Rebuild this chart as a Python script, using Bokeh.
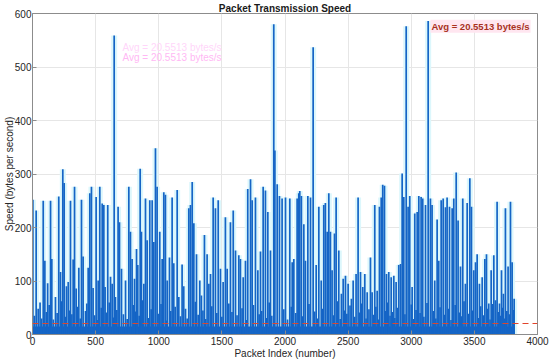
from bokeh.plotting import figure
from bokeh.models import Label, Range1d, Span, ColumnDataSource, FixedTicker
from bokeh.embed import file_html
from bokeh.resources import INLINE

# ---- data ----
spike_idx = [3, 29, 60, 85, 98, 120, 143, 153, 182, 208, 222, 240, 251, 269, 283, 301, 322, 333, 346,
             367, 388, 401, 441, 454, 467, 480, 504, 520, 533, 552, 565, 575, 596, 618, 631, 647, 657,
             678, 689, 705, 737, 763, 776, 789, 808, 824, 834, 853, 863, 882, 895, 908, 929, 948, 961,
             974, 987, 1008, 1027, 1040, 1053, 1067, 1085, 1106, 1119, 1146, 1159, 1185, 1198, 1238,
             1251, 1265, 1278, 1299, 1325, 1338, 1362, 1383, 1397, 1410, 1431, 1449, 1471, 1489, 1510,
             1528, 1542, 1568, 1590, 1608, 1634, 1647, 1669, 1687, 1705, 1727, 1740, 1766, 1785, 1806,
             1827, 1845, 1864, 1885, 1911, 1920, 1938, 1956, 1977, 2004, 2038, 2057, 2070, 2096, 2109,
             2117, 2130, 2149, 2162, 2181, 2202, 2223, 2247, 2268, 2287, 2307, 2320, 2334, 2347, 2360,
             2373, 2392, 2405, 2426, 2447, 2461, 2479, 2500, 2526, 2540, 2563, 2579, 2598, 2616, 2632,
             2651, 2677, 2690, 2711, 2730, 2748, 2762, 2774, 2788, 2804, 2822, 2841, 2862, 2880, 2901,
             2915, 2928, 2941, 2960, 2975, 2988, 3007, 3028, 3047, 3060, 3078, 3091, 3113, 3134, 3152,
             3165, 3186, 3205, 3218, 3237, 3253, 3271, 3284, 3303, 3324, 3337, 3356, 3371, 3390, 3408,
             3429, 3443, 3464, 3477, 3495, 3509, 3522, 3540, 3562, 3583, 3596, 3614, 3633, 3654, 3667,
             3680, 3699, 3715, 3730, 3746, 3767, 3786, 3799, 3815]
spike_val = [252, 232, 60, 250, 138, 96, 250, 141, 70, 258, 117, 309, 283, 90, 98, 250, 140, 276, 86,
             125, 252, 146, 125, 264, 276, 87, 257, 101, 276, 245, 242, 89, 242, 108, 95, 559, 70,
             239, 210, 123, 101, 276, 192, 141, 104, 160, 130, 310, 192, 95, 254, 176, 251, 251, 173,
             348, 276, 192, 141, 266, 261, 101, 144, 256, 133, 270, 70, 131, 90, 236,
             242, 285, 208, 150, 101, 73, 186, 150, 95, 113, 256, 236, 251, 123, 98,
             219, 123, 210, 232, 157, 148, 141, 107, 138, 272, 290, 251, 256, 120, 155,
             276, 269, 229, 157, 580, 344, 281, 259, 254, 256, 254, 135, 141, 254, 264,
             268, 259, 206, 138, 259, 256, 537, 130, 239, 101, 242, 246, 192, 264, 192,
             120, 189, 256, 157, 76, 104, 110, 95, 67, 101, 113, 256, 117, 89, 113,
             79, 144, 79, 242, 82, 239, 256, 280, 278, 113, 117, 107, 110, 98, 130,
             132, 301, 257, 576, 239, 259, 89, 226, 229, 259, 257, 254, 242, 586, 254,
             242, 101, 215, 138, 251, 254, 238, 256, 239, 236, 254, 303, 213, 127, 254,
             95, 246, 292, 239, 120, 135, 150, 95, 107, 141, 150, 58, 120, 148, 64,
             248, 58, 120, 76, 236, 127, 248, 135, 67]
low_idx = [15, 45, 72, 110, 132, 165, 195, 230, 260, 292,
           312, 356, 378, 420, 430, 492, 512, 545, 585, 608,
           640, 668, 720, 750, 798, 815, 845, 872, 918, 940,
           995, 1018, 1060, 1095, 1130, 1172, 1212, 1225, 1290, 1312,
           1350, 1372, 1420, 1460, 1500, 1555, 1580, 1620, 1660, 1695,
           1750, 1795, 1815, 1855, 1875, 1895, 1990, 2020, 2050, 2085,
           2140, 2190, 2235, 2258, 2296, 2385, 2415, 2437, 2470, 2490,
           2515, 2552, 2590, 2607, 2642, 2665, 2700, 2720, 2740, 2795,
           2812, 2832, 2852, 2870, 2890, 2950, 3000, 3018, 3038, 3070,
           3100, 3125, 3175, 3195, 3228, 3262, 3295, 3315, 3348, 3380,
           3398, 3418, 3455, 3487, 3530, 3550, 3572, 3605, 3624, 3643,
           3690, 3707, 3722, 3738, 3757, 3777, 3808]
low_val = [35, 48, 30, 42, 55, 28, 40, 62, 33, 45,
           38, 52, 30, 44, 58, 36, 27, 50, 41, 60,
           32, 46, 38, 29, 55, 43, 35, 64, 31, 47,
           39, 57, 26, 44, 52, 34, 48, 30, 61, 37,
           45, 29, 53, 40, 33, 58, 42, 36, 49, 27,
           55, 38, 44, 31, 60, 35, 47, 28, 52, 40,
           34, 57, 43, 30, 48, 36, 62, 29, 45, 39,
           54, 33, 41, 58, 30, 47, 37, 52, 28, 44,
           60, 35, 42, 31, 50, 38, 56, 29, 46, 40,
           33, 59, 44, 30, 51, 37, 48, 27, 55, 41,
           34, 62, 39, 45, 31, 53, 36, 48, 28, 57,
           42, 35, 50, 30, 44, 38, 46]
base_level = 14
last_packet = 3815
avg_speed = 20.5513
x_ticks = [0, 500, 1000, 1500, 2000, 2500, 3000, 3500, 4000]
y_ticks = [0, 100, 200, 300, 400, 500, 600]

FONT = "Liberation Sans"
TXT = "#262626"
BLUE = "#1565c6"
HAZE = "#dcf7fc"

p = figure(width=550, height=361, output_backend="svg", toolbar_location=None,
           x_range=Range1d(0, 4000), y_range=Range1d(0, 600),
           title="Packet Transmission Speed",
           min_border_left=0, min_border_right=13, min_border_top=0, min_border_bottom=0)
p.background_fill_color = "white"
p.outline_line_color = "#8c8c8c"
p.title.align = "center"
p.title.text_font = FONT
p.title.text_font_size = "10px"
p.title.text_font_style = "bold"
p.title.text_color = "#1a1a1a"
p.title.standoff = 0

main = ColumnDataSource(dict(x=spike_idx, y=spike_val))
low = ColumnDataSource(dict(x=low_idx, y=low_val))
for s in (main, low):
    p.segment(x0="x", y0=0, x1="x", y1="y", source=s, line_color=HAZE, line_width=6)
p.quad(left=[0], right=[last_packet], bottom=[0], top=[base_level], fill_color=BLUE,
       line_color=BLUE)
for s in (low, main):
    p.segment(x0="x", y0=0, x1="x", y1="y", source=s, line_color=BLUE, line_width=1.7)

p.add_layout(Span(location=avg_speed, dimension="width", line_color="#e0452a",
                  line_dash="6 4", line_width=1.2))

for ax in (p.xaxis, p.yaxis):
    ax.axis_line_color = "#8c8c8c"
    ax.major_tick_line_color = "#8c8c8c"
    ax.major_tick_in = 4
    ax.major_tick_out = 0
    ax.minor_tick_line_color = None
    ax.major_label_text_font = FONT
    ax.major_label_text_font_size = "10px"
    ax.major_label_text_color = TXT
    ax.major_label_standoff = 2
    ax.axis_label_text_font = FONT
    ax.axis_label_text_font_size = "10px"
    ax.axis_label_text_font_style = "normal"
    ax.axis_label_text_color = TXT
    ax.axis_label_standoff = 0
p.yaxis.major_label_standoff = 1
p.yaxis.axis_label_standoff = -3
p.xaxis.axis_label = "Packet Index (number)"
p.yaxis.axis_label = "Speed (bytes per second)"
p.xaxis.ticker = FixedTicker(ticks=x_ticks)
p.yaxis.ticker = FixedTicker(ticks=y_ticks)
p.xgrid.ticker = FixedTicker(ticks=x_ticks)
p.ygrid.ticker = FixedTicker(ticks=y_ticks)
p.grid.grid_line_color = "#e6e6e6"

p.add_layout(Label(x=713, y=537, text="Avg = 20.5513 bytes/s", text_align="left",
                   text_baseline="middle", text_font=FONT, text_font_size="10px",
                   text_color="#ffd6fa"))
p.add_layout(Label(x=713, y=518, text="Avg = 20.5513 bytes/s", text_align="left",
                   text_baseline="middle", text_font=FONT, text_font_size="10px",
                   text_color="#ffb8f4"))
p.add_layout(Label(x=3152, y=576, text="Avg = 20.5513 bytes/s", text_align="left",
                   text_baseline="middle", text_font=FONT, text_font_size="9.5px",
                   text_font_style="bold", text_color="#a8321e",
                   background_fill_color="#ffe6f0", padding=1))

open("out.html", "w").write(file_html(p, INLINE))
